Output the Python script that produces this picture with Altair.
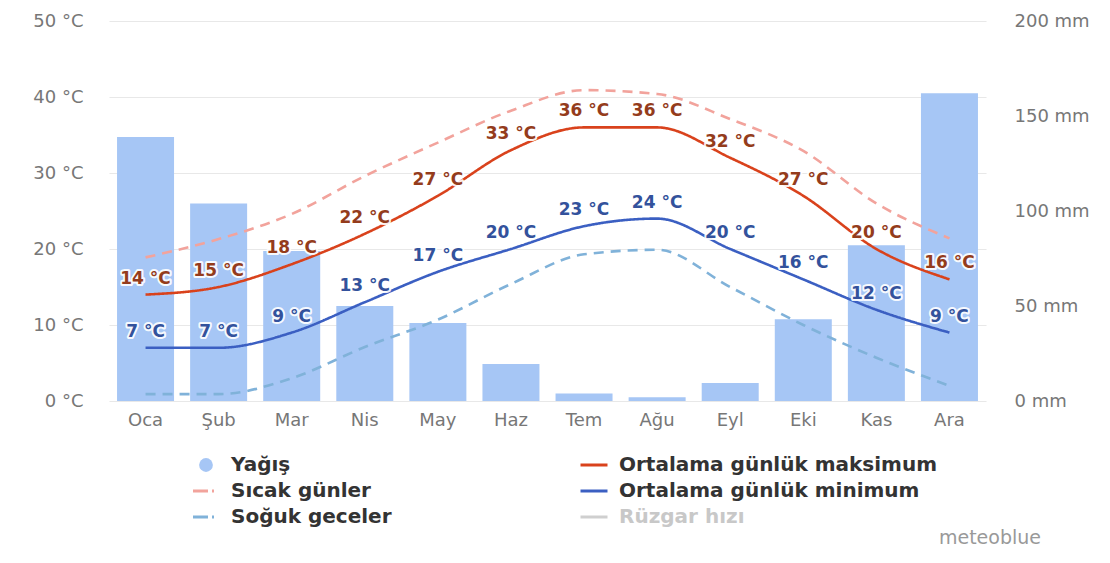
import altair as alt
import pandas as pd

months = ["Oca", "Şub", "Mar", "Nis", "May", "Haz", "Tem", "Ağu", "Eyl", "Eki", "Kas", "Ara"]
precip_mm = [139, 104, 79, 50, 41, 19.5, 4, 2, 9.5, 43, 82, 162]
temp_max = [14, 15, 18, 22, 27, 33, 36, 36, 32, 27, 20, 16]
temp_min = [7, 7, 9, 13, 17, 20, 23, 24, 20, 16, 12, 9]
hot_days = [18.9, 21.3, 24.6, 29.6, 34, 38.2, 40.9, 40.4, 37.1, 32.9, 26, 21.4]
cold_nights = [0.9, 0.9, 3.0, 7.1, 10.7, 15.4, 19.3, 19.9, 15, 10, 5.7, 2.0]

temp_ticks = [0, 10, 20, 30, 40, 50]
mm_ticks = [0, 50, 100, 150, 200]

series_names = ["Sıcak günler", "Soğuk geceler", "Ortalama günlük maksimum", "Ortalama günlük minimum"]
series_values = [hot_days, cold_nights, temp_max, temp_min]
series_colors = ["#f2a39c", "#80b2d9", "#d9421c", "#3b5fc2"]
series_dash = [[10, 7], [10, 7], [1, 0], [1, 0]]

legend_labels = ["Yağış", "Ortalama günlük maksimum", "Sıcak günler",
                 "Ortalama günlük minimum", "Soğuk geceler", "Rüzgar hızı"]
legend_col = [0, 1, 0, 1, 0, 1]
legend_row = [0, 0, 1, 1, 2, 2]
legend_kind = ["circle", "line", "dash", "line", "dash", "line"]
legend_colors = ["#a6c6f5", "#d9421c", "#f2a39c", "#3b5fc2", "#80b2d9", "#cfcfcf"]

FONT = "DejaVu Sans"
BAR = "#a6c6f5"

df = pd.DataFrame({"month": months, "idx": list(range(12)), "precip": precip_mm})

rows = []
for name, vals in zip(series_names, series_values):
    for i, (m, v) in enumerate(zip(months, vals)):
        rows.append({"month": m, "idx": i, "series": name, "temp": v})
long = pd.DataFrame(rows)

lab_rows = []
for name, vals, tc in [("max", temp_max, "#943c1c"), ("min", temp_min, "#33529c")]:
    for i, (m, v) in enumerate(zip(months, vals)):
        lab_rows.append({"month": m, "idx": i, "temp": v, "lbl": f"{v} °C", "tcolor": tc})
labdf = pd.DataFrame(lab_rows)

x_enc = alt.X(
    "month:N", sort=months, title=None,
    scale=alt.Scale(paddingInner=0.22, paddingOuter=0.11),
    axis=alt.Axis(labelAngle=0, ticks=False, domain=False, labelPadding=10,
                  labelColor="#777777", labelFontSize=18, labelFont=FONT, grid=False),
)

bars = alt.Chart(df).mark_bar(color=BAR).encode(
    x=x_enc,
    y=alt.Y("precip:Q", title=None, scale=alt.Scale(domain=[0, 200], nice=False),
            axis=alt.Axis(orient="right", values=mm_ticks, labelExpr="datum.value + ' mm'",
                          grid=False, ticks=False, domain=False, labelPadding=28,
                          labelColor="#777777", labelFontSize=18, labelFont=FONT)),
)

y_temp = alt.Y("temp:Q", title=None, scale=alt.Scale(domain=[0, 50], nice=False),
               axis=alt.Axis(orient="left", values=temp_ticks, labelExpr="datum.value + ' °C'",
                             grid=True, gridColor="#e8e8e8", gridWidth=1.2, ticks=False,
                             domain=False, labelPadding=26, labelColor="#777777",
                             labelFontSize=18, labelFont=FONT))

lines = alt.Chart(long).mark_line(interpolate="monotone", strokeWidth=2.6).encode(
    x=alt.X("month:N", sort=months),
    y=y_temp,
    color=alt.Color("series:N", scale=alt.Scale(domain=series_names, range=series_colors), legend=None),
    strokeDash=alt.StrokeDash("series:N", scale=alt.Scale(domain=series_names, range=series_dash), legend=None),
    order="idx:Q",
)

halo = alt.Chart(labdf).mark_text(
    dy=-16, fontSize=17, fontWeight="bold", font=FONT, baseline="middle",
    fill="white", stroke="white", strokeWidth=4, strokeJoin="round", opacity=0.9,
).encode(x=alt.X("month:N", sort=months), y=alt.Y("temp:Q"), text="lbl:N")

txt = alt.Chart(labdf).mark_text(
    dy=-16, fontSize=17, fontWeight="bold", font=FONT, baseline="middle",
).encode(x=alt.X("month:N", sort=months), y=alt.Y("temp:Q"), text="lbl:N",
         color=alt.Color("tcolor:N", scale=None))

temps = alt.layer(lines, halo, txt)
main = alt.layer(bars, temps).resolve_scale(y="independent").properties(width=877, height=380)

leg = pd.DataFrame({"label": legend_labels, "col": legend_col, "row": legend_row, "kind": legend_kind})
lx = alt.X("col:Q", scale=alt.Scale(domain=[0, 1], range=[97, 485]), axis=None)
ly = alt.Y("row:Q", scale=alt.Scale(domain=[0, 2], range=[22, 74]), axis=None)
lcolor = alt.Color("label:N", scale=alt.Scale(domain=legend_labels, range=legend_colors), legend=None)

base = alt.Chart(leg)
l_circle = base.transform_filter(alt.datum.kind == "circle").mark_point(
    shape="circle", filled=True, size=190, opacity=1).encode(x=lx, y=ly, color=lcolor)
l_dash = base.transform_filter(alt.datum.kind == "dash").mark_point(
    shape="stroke", filled=False, size=676, strokeWidth=3, strokeDash=[15, 4, 2, 5], opacity=1
).encode(x=lx, y=ly, color=lcolor)
l_line = base.transform_filter(alt.datum.kind == "line").mark_point(
    shape="stroke", filled=False, size=729, strokeWidth=3, opacity=1
).encode(x=lx, y=ly, color=lcolor)
l_text = base.mark_text(align="left", baseline="middle", dx=25, fontSize=20,
                        fontWeight="bold", font=FONT).encode(
    x=lx, y=ly, text="label:N",
    color=alt.condition(alt.datum.label == "Rüzgar hızı", alt.value("#c8c8c8"), alt.value("#333333")),
)

legend_chart = alt.layer(l_circle, l_dash, l_line, l_text).properties(
    width=877, height=86,
    title=alt.Title("meteoblue", orient="bottom", anchor="end", frame="group", dx=55, offset=0,
                    fontSize=19, fontWeight="normal", color="#999999", font=FONT),
)

chart = alt.vconcat(main, legend_chart, spacing=14).resolve_scale(
    color="independent", strokeDash="independent"
).properties(
    padding={"left": 24, "top": 4, "right": 5, "bottom": 2}
).configure(background="white").configure_view(strokeWidth=0, stroke="transparent")

chart.save("out.html", embed_options={"renderer": "svg", "actions": False})
